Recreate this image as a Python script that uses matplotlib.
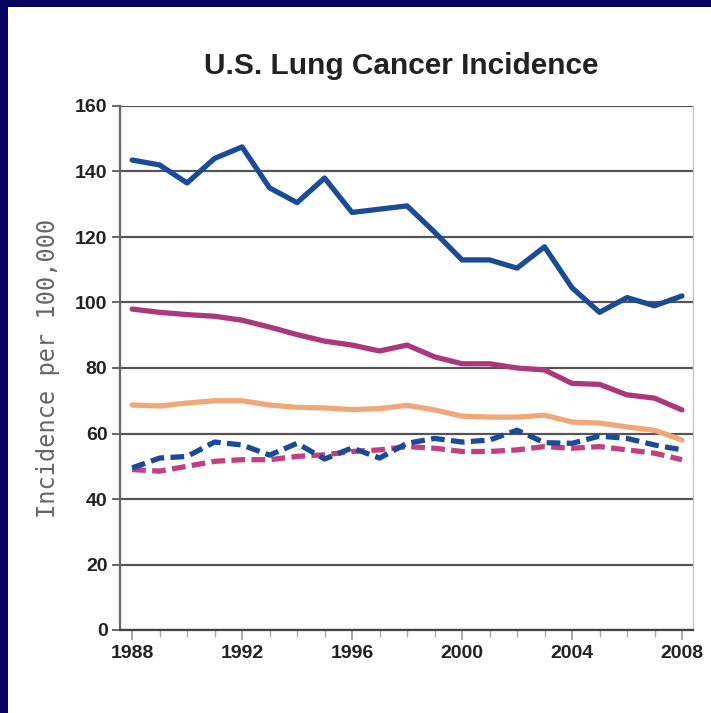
import numpy as np
import matplotlib
matplotlib.use('Agg')
import matplotlib.pyplot as plt
from matplotlib.patches import Rectangle

# -------------- data --------------
years = list(range(1988, 2009))

blue_solid = [143.5, 142, 136.5, 144, 147.5, 135, 130.5, 138, 127.5, 128.5, 129.5,
              121.5, 113, 113, 110.5, 117, 104.5, 97, 101.5, 99, 102]
magenta_solid = [98, 97, 96.3, 95.8, 94.6, 92.5, 90.2, 88.2, 87, 85.2, 87,
                 83.4, 81.3, 81.3, 80, 79.4, 75.3, 75, 71.8, 70.8, 67.2]
orange_solid = [68.7, 68.4, 69.3, 70, 70, 68.7, 68, 67.8, 67.3, 67.6, 68.6,
                67.2, 65.3, 65, 65, 65.6, 63.5, 63.2, 62, 61, 58]
blue_dashed = [49.5, 52.5, 53, 57.4, 56.5, 53.4, 57, 52.2, 55.6, 52.5, 57,
               58.5, 57.4, 58, 61, 57.2, 57, 59.2, 58.5, 56.5, 55]
magenta_dashed = [49, 48.5, 50, 51.5, 52, 52, 53, 53.5, 54.5, 55, 56,
                  55.5, 54.5, 54.5, 55, 56, 55.5, 56, 55, 54, 52]

yticks = [0, 20, 40, 60, 80, 100, 120, 140, 160]
xticks = [1988, 1992, 1996, 2000, 2004, 2008]
# ------------------------------------------------------

NAVY = '#07045f'
cond = ['Liberation Sans', 'DejaVu Sans']

fig = plt.figure(figsize=(7.11, 7.13), dpi=100, facecolor=NAVY)
# white slide panel, kept behind the axes
fig.patches.append(Rectangle((8 / 711, 0), 703 / 711, 706 / 713,
                             transform=fig.transFigure, facecolor='white',
                             edgecolor='none', zorder=-5))

ax = fig.add_axes([120 / 711, 1 - 630 / 713, 573 / 711, 524 / 713])
ax.set_zorder(2)
ax.set_facecolor('white')

ax.plot(years, orange_solid, color='#f0a878', lw=3.8, solid_capstyle='round', zorder=3)
ax.plot(years, magenta_solid, color='#ab387b', lw=3.8, solid_capstyle='round', zorder=4)
ax.plot(years, blue_solid, color='#1a4c96', lw=3.8, solid_capstyle='round', zorder=5)
ax.plot(years, magenta_dashed, color='#c33f80', lw=3.8, dashes=(2.6, 1.2), zorder=6)
ax.plot(years, blue_dashed, color='#1a4c96', lw=3.8, dashes=(2.6, 1.2), zorder=7)

ax.set_xlim(1987.56, 2008.4)
ax.set_ylim(0, 160)
ax.set_yticks(yticks)
ax.set_xticks(xticks)
ax.set_xticks(years, minor=True)
ax.yaxis.grid(True, color='#555555', lw=1.6, zorder=1)
ax.set_axisbelow(True)

for s in ['left', 'bottom']:
    ax.spines[s].set_color('#666666')
    ax.spines[s].set_linewidth(1.6)
ax.spines['bottom'].set_color('#444444')
ax.spines['right'].set_color('#c8c8c8')
ax.spines['right'].set_linewidth(1.0)
ax.spines['top'].set_visible(False)

ax.tick_params(axis='y', length=6, width=1.4, color='#666666', pad=3)
ax.tick_params(axis='x', which='major', length=7, width=1.2, color='#999999', pad=4)
ax.tick_params(axis='x', which='minor', length=5, width=1.0, color='#aaaaaa')

for lab in ax.get_yticklabels() + ax.get_xticklabels():
    lab.set_family(cond)
    lab.set_fontsize(14)
    lab.set_fontweight('bold')
    lab.set_color('#222222')

fig.text(401 / 711, 1 - 66 / 713, 'U.S. Lung Cancer Incidence', family=cond,
         fontsize=21.5, fontweight='bold', color='#222222', ha='center', va='center')
fig.text(48 / 711, 1 - 368 / 713, 'Incidence per 100,000', family='DejaVu Sans Mono',
         fontsize=17, color='#666666', rotation=90, ha='center', va='center')

fig.savefig('out.png', dpi=100, facecolor=fig.get_facecolor())
